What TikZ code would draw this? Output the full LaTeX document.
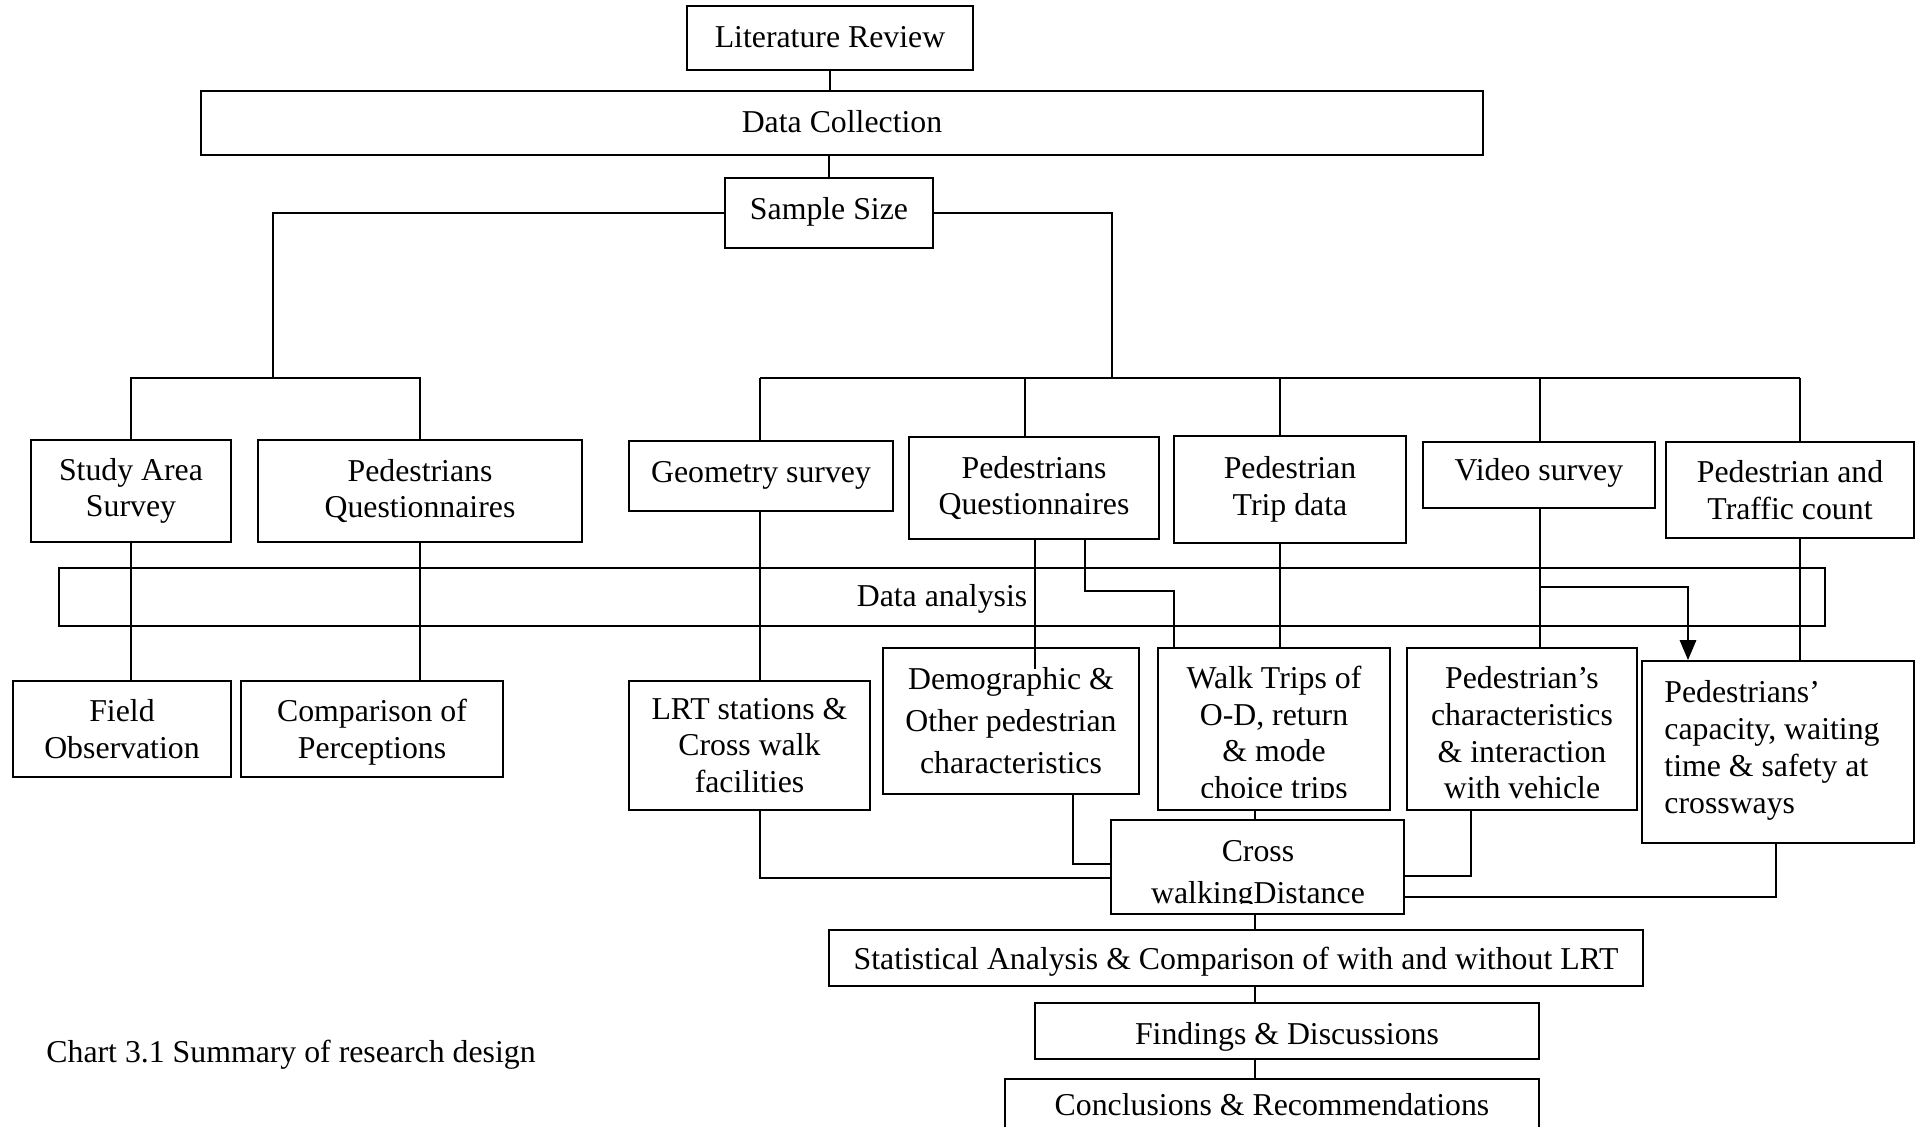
\documentclass[tikz,border=0pt]{standalone}
\usepackage{fontspec}
\setmainfont{Liberation Serif}
\usetikzlibrary{arrows.meta}
\begin{document}
\begin{tikzpicture}[x=0.5pt,y=-0.5pt,
  every node/.style={font=\fontsize{15.9}{18.4}\selectfont},
  box/.style={draw, line width=0.8pt, align=center, inner sep=2pt},
  one/.style={text height=11.5pt, text depth=2pt},
  plain/.style={inner sep=0pt},
  conn/.style={line width=0.8pt},
  arr/.style={line width=1.4pt, -{Triangle[length=10pt,width=8pt]}}]
\useasboundingbox (0,0) rectangle (1918,1127);
\fill[white] (0,0) rectangle (1918,1127);

% top chain
\node[box,one,minimum width=143pt,minimum height=32pt] (lit) at (830,38) {Literature Review};
\node[box,one,minimum width=641pt,minimum height=32pt] (dc) at (842,123) {Data Collection};
\node[box,one,text height=9pt,minimum width=104pt,minimum height=35pt] (ss) at (829,213) {Sample Size};

% row 2
\node[box,minimum width=100pt,minimum height=51pt] (sas) at (131,491) {Study Area\\Survey};
\node[box,minimum width=162pt,minimum height=51pt] (pq1) at (420,491) {Pedestrians\\Questionnaires};
\node[box,one,text height=9pt,minimum width=132pt,minimum height=35pt] (geo) at (761,476) {Geometry survey};
\node[box,minimum width=125pt,minimum height=51pt] (pq2) at (1034,488) {Pedestrians\\Questionnaires};
\node[box,minimum width=116pt,minimum height=53.5pt] (ptd) at (1290,489.5) {Pedestrian\\Trip data};
\node[box,one,text height=8pt,minimum width=116pt,minimum height=33pt] (vid) at (1539,475) {Video survey};
\node[box,minimum width=124pt,minimum height=48pt] (ptc) at (1790,490) {Pedestrian and\\Traffic count};

% data analysis
\node[box,one,minimum width=883pt,minimum height=29pt] (da) at (942,597) {Data analysis};

% row 3
\node[box,minimum width=109pt,minimum height=48pt] (fo) at (122,729) {Field\\Observation};
\node[box,minimum width=131pt,minimum height=48pt] (cp) at (372,729) {};
\node[plain,align=center,anchor=north] (cpT) at (372,699) {Comparison of\\Perceptions};
\node[box,minimum width=120.5pt,minimum height=64.5pt] (lrt) at (749.5,745.5) {LRT stations \&\\Cross walk\\facilities};
\node[box,minimum width=128pt,minimum height=73pt,font=\fontsize{15.9}{21}\selectfont] (demo) at (1011,721) {Demographic \&\\Other pedestrian\\characteristics};
\node[box,minimum width=116pt,minimum height=81pt] (walk) at (1274,729) {};
\begin{scope}
  \clip (1158,640) rectangle (1390,798);
  \node[plain,align=center,anchor=north] (walkT) at (1274,665.5) {Walk Trips of\\O-D, return\\\& mode\\choice trips};
\end{scope}
\node[box,minimum width=115pt,minimum height=81pt] (pchar) at (1522,729) {};
\node[plain,align=center,anchor=north] (pcharT) at (1522,666) {Pedestrian’s\\characteristics\\\& interaction\\with vehicle};
\node[box,minimum width=136pt,minimum height=91pt] (pcap) at (1778,752) {};
\node[plain,align=left,anchor=north west] (pcapT) at (1664,680.5) {Pedestrians’\\capacity, waiting\\time \& safety at\\crossways};

% lower chain
\node[box,minimum width=146.5pt,minimum height=47pt] (cwd) at (1257.5,867) {};
\begin{scope}
  \clip (1111,815) rectangle (1404,904);
  \node[plain,align=center,anchor=north,font=\fontsize{15.9}{21}\selectfont] (cwdT) at (1258,840) {Cross\\walkingDistance};
\end{scope}
\node[box,one,text height=14pt,minimum width=407pt,minimum height=28pt] (stat) at (1236,958) {Statistical Analysis \& Comparison of with and without LRT};
\node[box,one,text height=15pt,minimum width=252pt,minimum height=28pt] (find) at (1287,1031) {Findings \& Discussions};
\node[box,minimum width=267pt,minimum height=41pt] (conc) at (1272,1120) {};
\node[plain,anchor=base] (concT) at (1272,1115) {Conclusions \& Recommendations};

% caption
\node[plain,anchor=base west] (cap) at (46,1062) {Chart 3.1 Summary of research design};

% ---- connectors ----
\draw[conn] (lit.south) -- (lit.south |- dc.north);
\draw[conn] (ss.north |- dc.south) -- (ss.north);

\coordinate (jL) at (273,378);
\coordinate (jR) at (1112,378);
\draw[conn] (ss.west) -| (jL);
\draw[conn] (sas.north) |- (jL) -| (pq1.north);
\draw[conn] (ss.east) -| (jR);

\coordinate (dGeo) at (760,378);
\coordinate (dPQ2) at (1025,378);
\coordinate (dPTD) at (1280,378);
\coordinate (dVid) at (1540,378);
\coordinate (dPTC) at (1800,378);
\draw[conn] (dGeo) -- (dPTC);
\draw[conn] (dGeo) -- (dGeo |- geo.north);
\draw[conn] (dPQ2) -- (dPQ2 |- pq2.north);
\draw[conn] (dPTD) -- (dPTD |- ptd.north);
\draw[conn] (dVid) -- (dVid |- vid.north);
\draw[conn] (dPTC) -- (dPTC |- ptc.north);

% through data analysis
\draw[conn] (sas.south) -- (sas.south |- fo.north);
\draw[conn] (pq1.south) -- (pq1.south |- cp.north);
\draw[conn] (dGeo |- geo.south) -- (dGeo |- lrt.north);
\coordinate (qa) at (1035,669);
\draw[conn] (qa |- pq2.south) -- (qa);
\coordinate (qb) at (1085,591);
\coordinate (qc) at (1174,591);
\draw[conn] (qb |- pq2.south) -- (qb) -- (qc) -- (qc |- walk.north);
\draw[conn] (dPTD |- ptd.south) -- (dPTD |- walk.north);
\coordinate (vb) at (1540,587);
\coordinate (vc) at (1688,587);
\draw[conn] (dVid |- vid.south) -- (dVid |- pchar.north);
\draw[arr] (vb) -- (vc) -- (vc |- pcap.north);
\draw[conn] (dPTC |- ptc.south) -- (dPTC |- pcap.north);

% into cross walking distance
\coordinate (la) at (760,878);
\draw[conn] (la |- lrt.south) -- (la) -- (la -| cwd.west);
\coordinate (da1) at (1073,864);
\draw[conn] (da1 |- demo.south) -- (da1) -- (da1 -| cwd.west);
\coordinate (wx) at (1255,0);
\draw[conn] (wx |- walk.south) -- (wx |- cwd.north);
\coordinate (pa) at (1471,876);
\draw[conn] (pa |- pchar.south) -- (pa) -- (pa -| cwd.east);
\coordinate (ka) at (1776,897);
\draw[conn] (ka |- pcap.south) -- (ka) -- (ka -| cwd.east);

\draw[conn] (wx |- cwd.south) -- (wx |- stat.north);
\draw[conn] (wx |- stat.south) -- (wx |- find.north);
\draw[conn] (wx |- find.south) -- (wx |- conc.north);
\end{tikzpicture}
\end{document}
